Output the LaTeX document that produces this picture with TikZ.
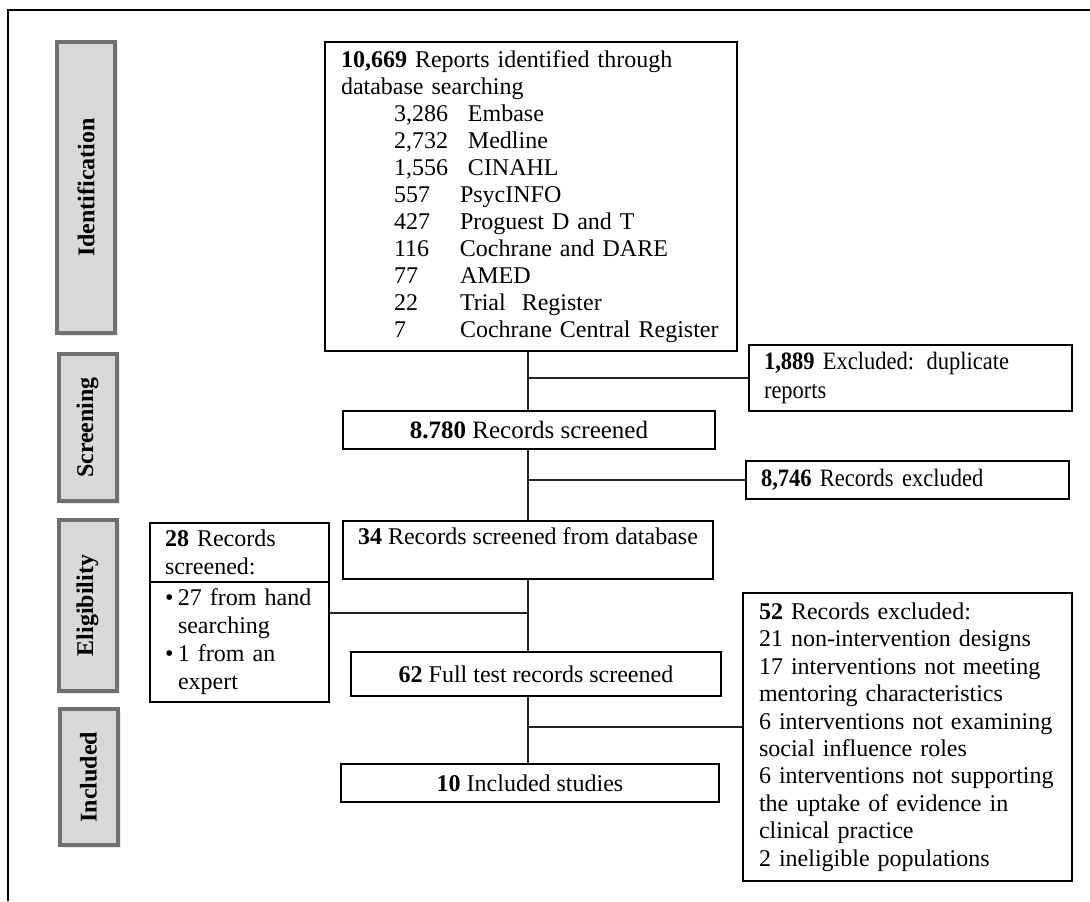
\documentclass[tikz,border=0pt]{standalone}
\usepackage{fontspec}
\setmainfont{Liberation Serif}
\newfontfamily\narrowserif[FakeStretch=0.9]{Liberation Serif}
\definecolor{stagegray}{RGB}{217,217,217}
\definecolor{stageline}{RGB}{112,112,112}
\definecolor{linkgray}{RGB}{35,35,35}
\usetikzlibrary{shapes.multipart,shadows}
\newcommand{\dbrow}[2]{\hspace*{26.5pt}\makebox[33pt][l]{#1}#2}
\newcommand{\stagelabel}[1]{\rotatebox{90}{\fontsize{12}{13}\selectfont\bfseries #1}}
\newcommand{\bulletrow}[1]{\makebox[6.5pt][l]{\textbullet}#1}

\begin{document}
\begin{tikzpicture}[x=0.5pt, y=-0.5pt,
  stage/.style={draw=stageline, line width=2pt, fill=stagegray, minimum width=29pt, inner sep=0pt, drop shadow={shadow xshift=1.5pt, shadow yshift=-1.5pt, fill=black!18}},
  box/.style={draw=black, line width=1pt, fill=white, inner xsep=7.5pt, inner ysep=3pt, font=\fontsize{12}{13.5}\selectfont},
  link/.style={draw=linkgray, line width=1pt}
]
  \useasboundingbox (0,0) rectangle (1090,901);
  \draw[line width=1pt] (8,901) -- (8,10) -- (1090,10);

  \node[stage, minimum height=145.5pt] (ident) at (86,187.5) {\stagelabel{Identification}};
  \node[stage, minimum height=73.5pt] (screen) at (87.5,427.5) {\stagelabel{Screening}};
  \node[stage, minimum height=85.5pt] (elig) at (87.5,605.5) {\stagelabel{Eligibility}};
  \node[stage, minimum height=68pt] (incl) at (88.5,777) {\stagelabel{Included}};

  \node[box, minimum width=206pt, minimum height=154.5pt, text width=190pt, inner xsep=8pt, align=left] (idbox) at (531,196.5) {\textbf{10,669} Reports identified through\\database searching\\
    \dbrow{3,286}{\ Embase}\\\dbrow{2,732}{\ Medline}\\\dbrow{1,556}{\ CINAHL}\\\dbrow{557}{PsycINFO}\\\dbrow{427}{Proguest D and T}\\
    \dbrow{116}{Cochrane and DARE}\\\dbrow{77}{AMED}\\\dbrow{22}{Trial\ \ Register}\\\dbrow{7}{Cochrane Central Register}};
  \node[box, minimum width=161.5pt, minimum height=33pt, text width=146.5pt, align=left, font=\fontsize{12.5}{14.5}\narrowserif] (dupbox) at (910.5,378) {\textbf{1,889} Excluded: duplicate\\reports};
  \node[box, minimum width=186pt, minimum height=19pt, font=\fontsize{12.5}{14}\selectfont] (scrbox) at (529,430) {\textbf{8.780} Records screened};
  \node[box, minimum width=161.5pt, minimum height=19pt, text width=146.5pt, align=left, font=\fontsize{12.5}{14}\narrowserif] (exbox) at (907.5,480) {\textbf{8,746} Records excluded};
  \node[box, minimum width=185pt, minimum height=29pt, align=center] (dbbox) at (528,550) {\textbf{34} Records screened from database\\\mbox{}};
  \node[box, rectangle split, rectangle split parts=2, text width=74.5pt, align=left, anchor=north west, font=\fontsize{12}{14}\selectfont] (handbox) at (149,522) {\textbf{28} Records\\screened:
    \nodepart{two}\bulletrow{27 from hand}\\\hspace*{6.5pt}searching\\\bulletrow{1 from an}\\\hspace*{6.5pt}expert};
  \node[box, minimum width=185pt, minimum height=22pt] (ftbox) at (536,674) {\textbf{62} Full test records screened};
  \node[box, minimum width=189pt, minimum height=19pt] (inclbox) at (530,783) {\textbf{10} Included studies};
  \node[box, minimum width=164.5pt, minimum height=144pt, text width=148.5pt, inner xsep=8pt, align=left, font=\fontsize{12}{13.7}\selectfont] (exclbox) at (907.5,737) {\textbf{52} Records excluded:\\21 non-intervention designs\\17 interventions not meeting\\mentoring characteristics\\
    6 interventions not examining\\social influence roles\\6 interventions not supporting\\the uptake of evidence in\\clinical practice\\2 ineligible populations};

  \coordinate (trunk) at (528,0);
  \coordinate (exclin) at ([yshift=5pt]exclbox.west);
  \draw[link] (idbox.south -| trunk) -- (scrbox.north -| trunk);
  \draw[link] (scrbox.south -| trunk) -- (dbbox.north -| trunk);
  \draw[link] (dbbox.south -| trunk) -- (ftbox.north -| trunk);
  \draw[link] (ftbox.south -| trunk) -- (inclbox.north -| trunk);
  \draw[link] (dupbox.west -| trunk) -- (dupbox.west);
  \draw[link] (exbox.west -| trunk) -- (exbox.west);
  \draw[link] (handbox.east) -- (handbox.east -| trunk);
  \draw[link] (exclin -| trunk) -- (exclin);
\end{tikzpicture}
\end{document}
